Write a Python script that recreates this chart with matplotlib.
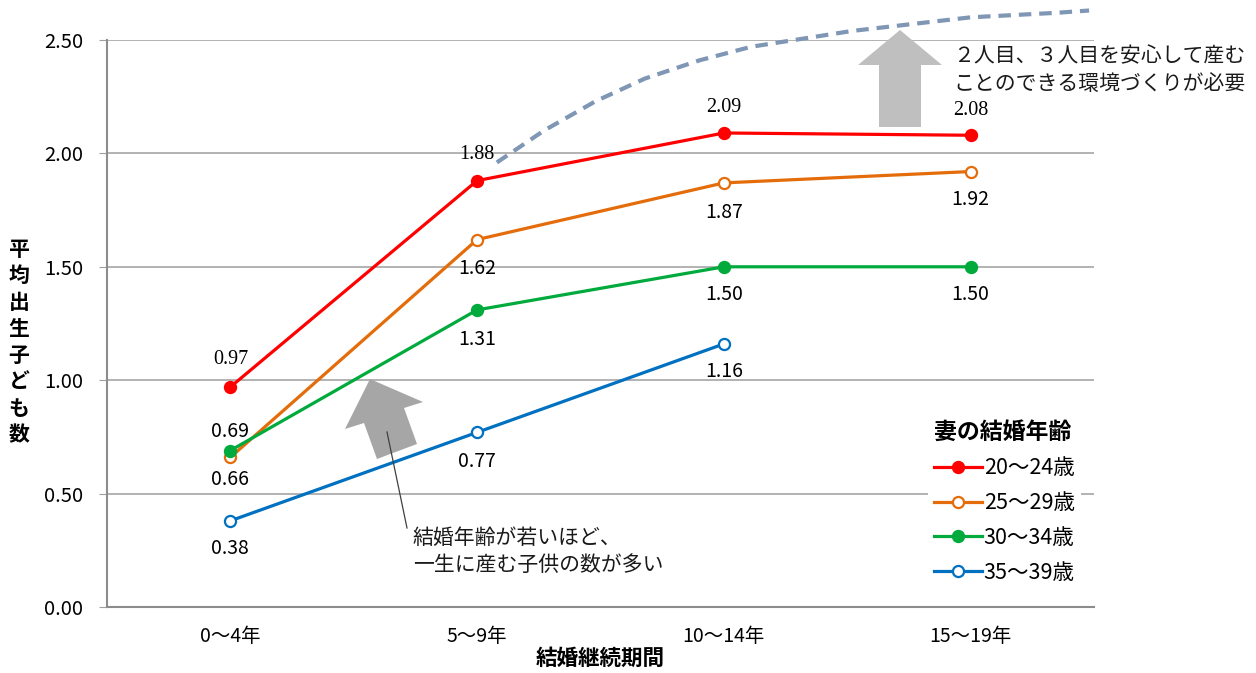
import matplotlib
matplotlib.use("Agg")
import numpy as np
import matplotlib.pyplot as plt
from matplotlib.patches import Polygon
from matplotlib.lines import Line2D

plt.rcParams['font.family'] = ['Noto Sans CJK JP', 'DejaVu Sans']

W, H = 1256, 673

periods = ['0～4年', '5～9年', '10～14年', '15～19年']
age_groups = ['20～24歳', '25～29歳', '30～34歳', '35～39歳']
v_20_24 = [0.97, 1.88, 2.09, 2.08]
v_25_29 = [0.66, 1.62, 1.87, 1.92]
v_30_34 = [0.69, 1.31, 1.50, 1.50]
v_35_39 = [0.38, 0.77, 1.16, np.nan]

# hand-drawn "ideal" curve (category index, value)
ideal_x = [1.08, 1.27, 1.48, 1.68, 1.90, 2.11, 2.52, 3.00, 3.35, 3.48]
ideal_y = [1.96, 2.10, 2.23, 2.33, 2.41, 2.47, 2.54, 2.60, 2.62, 2.63]

colors = ['#FF0000', '#E46C0A', '#00AA3C', '#0070C0']
filled = [True, False, True, False]
series = [v_20_24, v_25_29, v_30_34, v_35_39]
# label offsets in points (positive = above)
offsets = [[20, 19, 18, 18],
           [-16, -21, -21, -20],
           [14, -21, -20, -20],
           [-20, -21, -20, 0]]


def px(x, y):
    return (x / W, 1 - y / H)


fig = plt.figure(figsize=(W / 100, H / 100), dpi=100)
ax = fig.add_axes([107 / W, 1 - 607 / H, (1094 - 107) / W, (607 - 40) / H])

x = np.arange(len(periods))
handles = []
for vals, c, f, offs in zip(series, colors, filled, offsets):
    ln, = ax.plot(x, vals, color=c, lw=2.3, marker='o', ms=8,
                  mfc=c if f else 'white', mec=c, mew=1.6, zorder=4)
    handles.append(ln)
    for xi, v, o in zip(x, vals, offs):
        if np.isnan(v):
            continue
        if c == '#FF0000':
            ax.annotate(f'{v:.2f}', (xi, v), xytext=(0, o), textcoords='offset points',
                        ha='center', va='center', fontsize=14.5, family='Liberation Serif', zorder=6)
        else:
            ax.annotate(f'{v:.2f}', (xi, v), xytext=(0, o), textcoords='offset points',
                        ha='center', va='center', fontsize=14, zorder=6)

ax.plot(ideal_x, ideal_y, color='#7F96B4', lw=3, ls=(0, (3, 1.9)), clip_on=False, zorder=3)

ax.set_xlim(-0.5, 3.5)
ax.set_ylim(0, 2.5)
ax.set_yticks(np.arange(0, 2.51, 0.5))
ax.set_yticklabels([f'{t:.2f}' for t in np.arange(0, 2.51, 0.5)], fontsize=14.5)
ax.set_xticks(x)
ax.set_xticklabels(periods, fontsize=14)
ax.tick_params(axis='x', length=0, pad=14)
ax.tick_params(axis='y', length=6, color='#A0A0A0', pad=11)
ax.grid(axis='y', color='#A6A6A6', lw=1.2)
ax.set_axisbelow(True)
for s in ['top', 'right']:
    ax.spines[s].set_visible(False)
for s in ['left', 'bottom']:
    ax.spines[s].set_color('#8C8C8C')
    ax.spines[s].set_linewidth(1.5)

ax.set_xlabel('結婚継続期間', fontsize=15.5, fontweight='bold', labelpad=0)
fig.text(*px(19, 342), '\n'.join('平均出生子ども数'), ha='center', va='center',
         fontsize=15, fontweight='bold', linespacing=1.32)

leg = ax.legend(handles, age_groups, title='妻の結婚年齢', loc='upper left',
                bbox_to_anchor=((917 - 107) / (1094 - 107), (607 - 404) / (607 - 40)),
                frameon=True, facecolor='white', edgecolor='none', framealpha=1,
                fontsize=15.5, title_fontproperties={'weight': 'bold', 'size': 16.5},
                handlelength=2.2, handletextpad=0.1, labelspacing=0.6,
                alignment='left', borderpad=0.3)
leg.set_zorder(5)

# big block arrows
up_arrow = [(900, 30), (942, 65), (921, 65), (921, 127), (879, 127), (879, 65), (858, 65)]
fig.add_artist(Polygon([px(*p) for p in up_arrow], closed=True, transform=fig.transFigure,
                       fc='#BFBFBF', ec='none', zorder=4))
tilt_arrow = [(370, 379), (423, 402), (404, 408), (417, 444), (377, 459), (364, 423), (345, 429)]
fig.add_artist(Polygon([px(*p) for p in tilt_arrow], closed=True, transform=fig.transFigure,
                       fc='#A6A6A6', ec='none', zorder=4))
fig.add_artist(Line2D([387 / W, 407 / W], [1 - 432 / H, 1 - 528 / H], color='#404040', lw=0.9, zorder=5))

fig.text(*px(953, 70), '２人目、３人目を安心して産む\nことのできる環境づくりが必要',
         ha='left', va='center', fontsize=15, linespacing=1.35, color='#1a1a1a')
fig.text(*px(413, 551), '結婚年齢が若いほど、\n一生に産む子供の数が多い',
         ha='left', va='center', fontsize=15, linespacing=1.3, color='#1a1a1a')

fig.savefig('out.png', dpi=100)
